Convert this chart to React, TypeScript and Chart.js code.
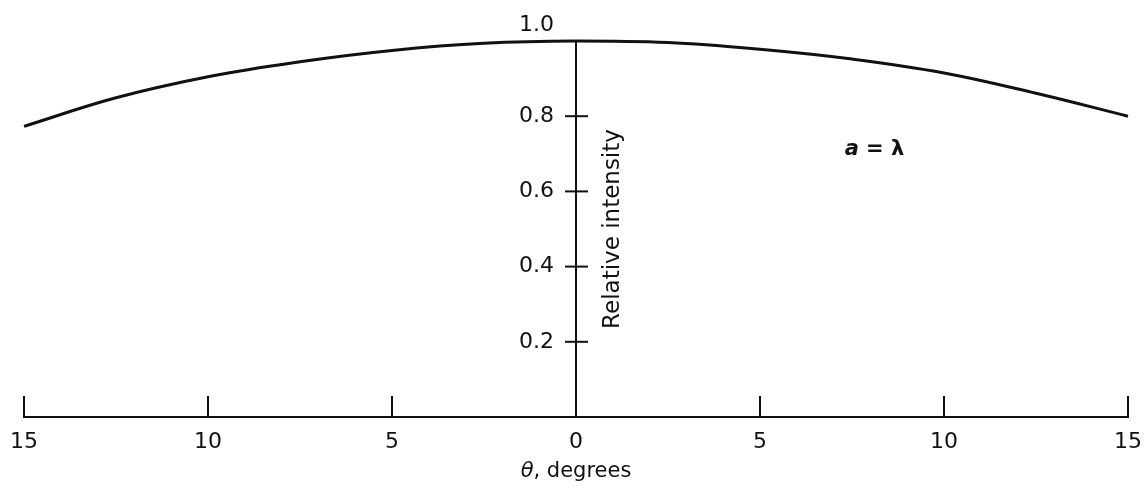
import React, { useEffect, useRef } from "react";
import { Chart, registerables } from "chart.js";

Chart.register(...registerables);

// ---- data ----
const thetaDeg = [-15, -12.5, -10, -7.5, -5, -2.5, 0, 2.5, 5, 7.5, 10, 12.5, 15];
const intensity = [0.773, 0.849, 0.905, 0.945, 0.975, 0.994, 1.0, 0.996, 0.978, 0.952, 0.915, 0.861, 0.8];

const xTickValues = [-15, -10, -5, 0, 5, 10, 15];
const xTickLabels = ["15", "10", "5", "0", "5", "10", "15"];
const yTickValues = [0.2, 0.4, 0.6, 0.8, 1.0];
const yTickLabels = ["0.2", "0.4", "0.6", "0.8", "1.0"];

const xTitleSymbol = "θ";
const xTitleRest = ", degrees";
const yTitle = "Relative intensity";
const noteSymbol = "a";
const noteRest = " = λ";
const notePos = { x: 7.3, y: 0.71 };

const FONT = '"DejaVu Sans", "Liberation Sans", sans-serif';
const INK = "#111";

const axesPlugin = {
  id: "handAxes",
  beforeDraw(chart: any) {
    const { ctx, width, height } = chart;
    ctx.save();
    ctx.fillStyle = "#fff";
    ctx.fillRect(0, 0, width, height);
    ctx.restore();
  },
  afterDraw(chart: any) {
    const { ctx } = chart;
    const xs = chart.scales.x;
    const ys = chart.scales.y;
    const y0 = ys.getPixelForValue(0);
    const x0 = xs.getPixelForValue(0);
    ctx.save();
    ctx.strokeStyle = INK;
    ctx.fillStyle = INK;
    ctx.lineWidth = 2;
    ctx.lineCap = "butt";

    // x axis line
    ctx.beginPath();
    ctx.moveTo(xs.getPixelForValue(xTickValues[0]) - 1, y0);
    ctx.lineTo(xs.getPixelForValue(xTickValues[xTickValues.length - 1]) + 1, y0);
    ctx.stroke();

    // x ticks and labels
    ctx.font = `22px ${FONT}`;
    ctx.textAlign = "center";
    ctx.textBaseline = "middle";
    xTickValues.forEach((v, i) => {
      const px = xs.getPixelForValue(v);
      ctx.beginPath();
      ctx.moveTo(px, y0);
      ctx.lineTo(px, y0 - 21);
      ctx.stroke();
      ctx.fillText(xTickLabels[i], px, y0 + 25);
    });

    // x title
    ctx.font = `italic 21px ${FONT}`;
    const w1 = ctx.measureText(xTitleSymbol).width;
    ctx.font = `21px ${FONT}`;
    const w2 = ctx.measureText(xTitleRest).width;
    const startX = x0 - (w1 + w2) / 2;
    ctx.textAlign = "left";
    ctx.font = `italic 21px ${FONT}`;
    ctx.fillText(xTitleSymbol, startX, y0 + 55);
    ctx.font = `21px ${FONT}`;
    ctx.fillText(xTitleRest, startX + w1, y0 + 55);

    // y axis line
    const yTop = ys.getPixelForValue(1.0);
    ctx.beginPath();
    ctx.moveTo(x0, yTop);
    ctx.lineTo(x0, y0);
    ctx.stroke();

    // y ticks and labels
    ctx.font = `22px ${FONT}`;
    ctx.textAlign = "right";
    yTickValues.forEach((v, i) => {
      const py = ys.getPixelForValue(v);
      ctx.beginPath();
      ctx.moveTo(x0 - 11, py);
      ctx.lineTo(x0 + 12, py);
      ctx.stroke();
      const ly = v >= 1 ? py - 16 : py;
      ctx.fillText(yTickLabels[i], x0 - 22, ly);
    });

    // y title (rotated)
    ctx.save();
    ctx.translate(x0 + 37, (yTop + y0) / 2);
    ctx.rotate(-Math.PI / 2);
    ctx.textAlign = "center";
    ctx.font = `23px ${FONT}`;
    ctx.fillText(yTitle, 0, 0);
    ctx.restore();

    // annotation a = λ
    const nx = xs.getPixelForValue(notePos.x);
    const ny = ys.getPixelForValue(notePos.y);
    ctx.textAlign = "left";
    ctx.font = `italic bold 21px ${FONT}`;
    ctx.fillText(noteSymbol, nx, ny);
    const wa = ctx.measureText(noteSymbol).width;
    ctx.font = `bold 21px ${FONT}`;
    ctx.fillText(noteRest, nx + wa, ny);

    ctx.restore();
  },
};

export default function App() {
  const canvasRef = useRef<HTMLCanvasElement | null>(null);

  useEffect(() => {
    document.body.style.margin = "0";
    const canvas = canvasRef.current;
    if (!canvas) return;
    const chart = new Chart(canvas, {
      type: "line",
      data: {
        datasets: [
          {
            data: thetaDeg.map((t, i) => ({ x: t, y: intensity[i] })),
            borderColor: INK,
            borderWidth: 3,
            pointRadius: 0,
            tension: 0.4,
            fill: false,
            clip: false as any,
          },
        ],
      },
      options: {
        responsive: false,
        animation: false,
        layout: { padding: { left: 24, right: 17, top: 41, bottom: 71 } },
        scales: {
          x: { type: "linear", min: -15, max: 15, display: false },
          y: { type: "linear", min: 0, max: 1, display: false },
        },
        plugins: {
          legend: { display: false },
          tooltip: { enabled: false },
        },
      },
      plugins: [axesPlugin],
    });
    return () => chart.destroy();
  }, []);

  return (
    <canvas
      ref={canvasRef}
      width={1145}
      height={488}
      style={{ display: "block", width: "1145px", height: "488px" }}
    />
  );
}
